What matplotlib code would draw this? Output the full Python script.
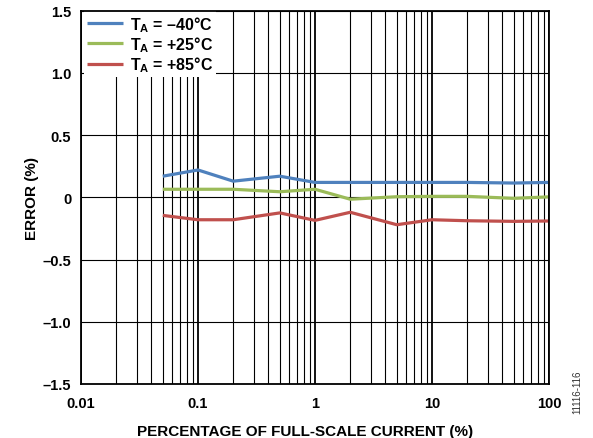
import matplotlib
matplotlib.use("Agg")
import matplotlib.pyplot as plt
from matplotlib.ticker import FixedLocator, LogLocator, NullFormatter

plt.rcParams['font.family'] = ['Liberation Sans', 'DejaVu Sans']
plt.rcParams['mathtext.fontset'] = 'custom'
plt.rcParams['mathtext.rm'] = 'Liberation Sans:bold'
plt.rcParams['mathtext.it'] = 'Liberation Sans:bold'
plt.rcParams['mathtext.bf'] = 'Liberation Sans:bold'

current_pct = [0.05, 0.1, 0.2, 0.5, 1, 2, 5, 10, 20, 50, 100]
err_m40 = [0.17, 0.22, 0.13, 0.17, 0.12, 0.12, 0.12, 0.12, 0.12, 0.115, 0.12]
err_p25 = [0.065, 0.065, 0.065, 0.045, 0.065, -0.015, 0.005, 0.008, 0.008, -0.008, 0.004]
err_p85 = [-0.145, -0.18, -0.18, -0.125, -0.185, -0.12, -0.22, -0.18, -0.188, -0.193, -0.19]

labels = [r'$T_A$ = –40°C', r'$T_A$ = +25°C', r'$T_A$ = +85°C']
colors = ['#4F81BD', '#9BBB59', '#C0504D']

xticks = [0.01, 0.1, 1, 10, 100]
xticklabels = ['0.01', '0.1', '1', '10', '100']
yticks = [-1.5, -1.0, -0.5, 0, 0.5, 1.0, 1.5]
yticklabels = ['–1.5', '–1.0', '–0.5', '0', '0.5', '1.0', '1.5']

fig = plt.figure(figsize=(5.93, 4.39), dpi=100)
ax = fig.add_axes([81/593, 1 - 385/439, (549 - 81)/593, (385 - 11.7)/439])

for ys, lab, c in zip([err_m40, err_p25, err_p85], labels, colors):
    ax.plot(current_pct, ys, color=c, lw=2.3, label=lab, solid_capstyle='butt', zorder=3)

ax.set_xscale('log')
ax.set_xlim(0.01, 100)
ax.set_ylim(-1.5, 1.5)
ax.xaxis.set_major_locator(FixedLocator(xticks))
ax.set_xticklabels(xticklabels)
ax.xaxis.set_minor_locator(LogLocator(base=10, subs=range(2, 10), numticks=20))
ax.xaxis.set_minor_formatter(NullFormatter())
ax.set_yticks(yticks)
ax.set_yticklabels(yticklabels)

ax.grid(True, which='major', axis='x', color='black', lw=1.3)
ax.grid(True, which='minor', axis='x', color='black', lw=0.8)
ax.grid(True, which='major', axis='y', color='black', lw=0.8)
ax.tick_params(which='both', length=0, labelsize=10.5)
ax.tick_params(axis='x', pad=9)
ax.tick_params(axis='y', pad=7)
for t in ax.get_xticklabels() + ax.get_yticklabels():
    t.set_fontweight('bold')
for s in ax.spines.values():
    s.set_linewidth(1.3)
    s.set_color('black')
    s.set_zorder(5)

ax.set_xlabel('PERCENTAGE OF FULL-SCALE CURRENT (%)', fontsize=11, fontweight='bold')
ax.xaxis.set_label_coords((305 - 81) / 468, (385 - 432) / 373.3)
ax.xaxis.label.set_va('center')
ax.set_ylabel('ERROR (%)', fontsize=11, fontweight='bold')
ax.yaxis.set_label_coords((32 - 81) / 468, 0.5)
ax.yaxis.label.set_va('center')

leg = ax.legend(loc='upper left', bbox_to_anchor=(3 / 468, 1), frameon=True,
                fancybox=False, framealpha=1,
                edgecolor='white', borderaxespad=0.0, handlelength=2.25,
                handletextpad=0.4, labelspacing=0.03, borderpad=0.2,
                prop={'weight': 'bold', 'size': 11.5})
leg.get_frame().set_linewidth(0)
leg.set_zorder(4)

fig.text(577/593, 1 - 392/439, '11116-116', rotation=90, fontsize=7,
         ha='center', va='center', color='#333333')

fig.savefig('out.png', dpi=100)
